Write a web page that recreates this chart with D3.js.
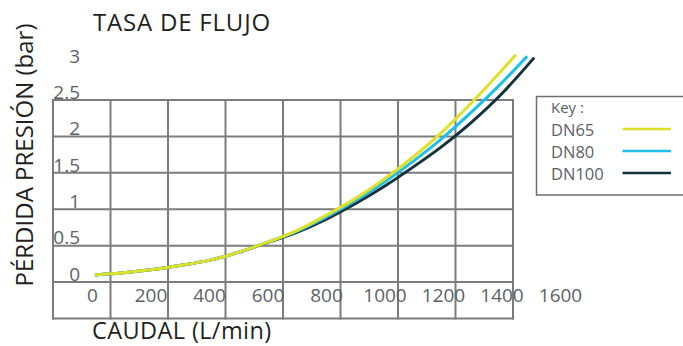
<!DOCTYPE html>
<html>
<head>
<meta charset="utf-8">
<script src="https://cdn.jsdelivr.net/npm/d3@7"></script>
<style>
  body { margin: 0; background: #fff; }
  svg { display: block; font-family: "Open Sans", sans-serif; }
</style>
</head>
<body>
<div id="chart"></div>
<script>
// Tick labels of the two axes
const flowTicks = [0, 200, 400, 600, 800, 1000, 1200, 1400, 1600];
const pressureTicks = [0, 0.5, 1, 1.5, 2, 2.5, 3];

// Series: flow (L/min) and pressure loss (bar)
const seriesNames = ["DN65", "DN80", "DN100"];
const dn65Flow = [10, 100, 200, 300, 400, 500, 600, 700, 800, 900, 1000, 1100, 1200, 1300, 1400, 1449];
const dn65Pressure = [0.07, 0.095, 0.14, 0.2, 0.27, 0.38, 0.52, 0.68, 0.89, 1.12, 1.39, 1.7, 2.05, 2.45, 2.88, 3.1];
const dn80Flow = [10, 100, 200, 300, 400, 500, 600, 700, 800, 900, 1000, 1100, 1200, 1300, 1400, 1488];
const dn80Pressure = [0.07, 0.095, 0.14, 0.2, 0.27, 0.38, 0.52, 0.67, 0.865, 1.09, 1.35, 1.64, 1.96, 2.32, 2.71, 3.08];
const dn100Flow = [10, 100, 200, 300, 400, 500, 600, 700, 800, 900, 1000, 1100, 1200, 1300, 1400, 1512];
const dn100Pressure = [0.07, 0.095, 0.14, 0.2, 0.27, 0.38, 0.515, 0.655, 0.835, 1.05, 1.29, 1.56, 1.85, 2.18, 2.56, 3.06];

// The background grid is its own table of cells, offset from the ticks
const gridColumns = 8;
const gridRows = 6;

const colors = { DN65: "#dfe02a", DN80: "#1dbfe8", DN100: "#15313d" };

const width = 683, height = 346;

const svg = d3.select("#chart")
  .append("svg")
  .attr("width", width)
  .attr("height", height);

// Scales
const xScale = d3.scaleLinear().domain([0, 1600]).range([92, 560]);
const yScale = d3.scaleLinear().domain([0, 3]).range([280, 62]);
const gridX = d3.scaleLinear().domain([0, gridColumns]).range([53, 513]);
const gridY = d3.scaleLinear().domain([0, gridRows]).range([318.5, 100]);

// Grid
const grid = svg.append("g").attr("stroke", "#7c7c7c").attr("stroke-width", 2);
grid.selectAll(".v")
  .data(d3.range(gridColumns + 1))
  .enter().append("line")
  .attr("x1", d => gridX(d)).attr("x2", d => gridX(d))
  .attr("y1", gridY(0) + 1).attr("y2", gridY(gridRows) - 1);
grid.selectAll(".h")
  .data(d3.range(gridRows + 1))
  .enter().append("line")
  .attr("y1", d => gridY(d)).attr("y2", d => gridY(d))
  .attr("x1", gridX(0) - 1).attr("x2", gridX(gridColumns) + 1);

// X axis labels
const xAxis = svg.append("g")
  .attr("transform", "translate(0,302)")
  .call(d3.axisBottom(xScale).tickValues(flowTicks).tickSize(0).tickFormat(d3.format("d")));
xAxis.select(".domain").remove();
xAxis.selectAll("text")
  .attr("y", 0).attr("dy", 0)
  .attr("fill", "#5c6264")
  .style("font-size", "19px")
  .style("font-family", "Open Sans, sans-serif");

// Y axis labels
const yAxis = svg.append("g")
  .attr("transform", "translate(80,0)")
  .call(d3.axisLeft(yScale).tickValues(pressureTicks).tickSize(0).tickFormat(d => d));
yAxis.select(".domain").remove();
yAxis.selectAll("text")
  .attr("x", 0).attr("dy", 0)
  .attr("fill", "#5c6264")
  .style("font-size", "19px")
  .style("font-family", "Open Sans, sans-serif");

// Curves
const line = d3.line()
  .x(d => xScale(d[0]))
  .y(d => yScale(d[1]))
  .curve(d3.curveMonotoneX);

const series = [
  { name: "DN100", points: d3.zip(dn100Flow, dn100Pressure) },
  { name: "DN80", points: d3.zip(dn80Flow, dn80Pressure) },
  { name: "DN65", points: d3.zip(dn65Flow, dn65Pressure) }
];

svg.selectAll(".curve")
  .data(series)
  .enter().append("path")
  .attr("class", "curve")
  .attr("d", d => line(d.points))
  .attr("fill", "none")
  .attr("stroke", d => colors[d.name])
  .attr("stroke-width", 3);

// Titles
svg.append("text")
  .attr("x", 93).attr("y", 31)
  .attr("fill", "#231f20")
  .style("font-size", "24px")
  .style("letter-spacing", "0.8px")
  .text("TASA DE FLUJO");

svg.append("text")
  .attr("x", 92).attr("y", 339)
  .attr("fill", "#231f20")
  .style("font-size", "23.5px")
  .style("letter-spacing", "0.4px")
  .text("CAUDAL (L/min)");

svg.append("text")
  .attr("transform", "translate(33,155) rotate(-90)")
  .attr("text-anchor", "middle")
  .attr("fill", "#231f20")
  .style("font-size", "24px")
  .text("PÉRDIDA PRESIÓN (bar)");

// Legend
const legend = svg.append("g");
legend.append("rect")
  .attr("x", 536.5).attr("y", 96.5)
  .attr("width", 170).attr("height", 98.5)
  .attr("fill", "none")
  .attr("stroke", "#6e6e6e")
  .attr("stroke-width", 1.5);
legend.append("text")
  .attr("x", 551).attr("y", 113)
  .attr("fill", "#5c6264")
  .style("font-size", "15px")
  .text("Key :");
const legendY = d3.scalePoint().domain(seriesNames).range([129, 173]);
const items = legend.selectAll(".item")
  .data(seriesNames)
  .enter().append("g")
  .attr("transform", d => "translate(0," + legendY(d) + ")");
items.append("text")
  .attr("x", 551).attr("y", 6.5)
  .attr("fill", "#5c6264")
  .style("font-size", "16.5px")
  .text(d => d);
items.append("line")
  .attr("x1", 622.5).attr("x2", 671)
  .attr("stroke", d => colors[d])
  .attr("stroke-width", 2.5);
</script>
</body>
</html>
